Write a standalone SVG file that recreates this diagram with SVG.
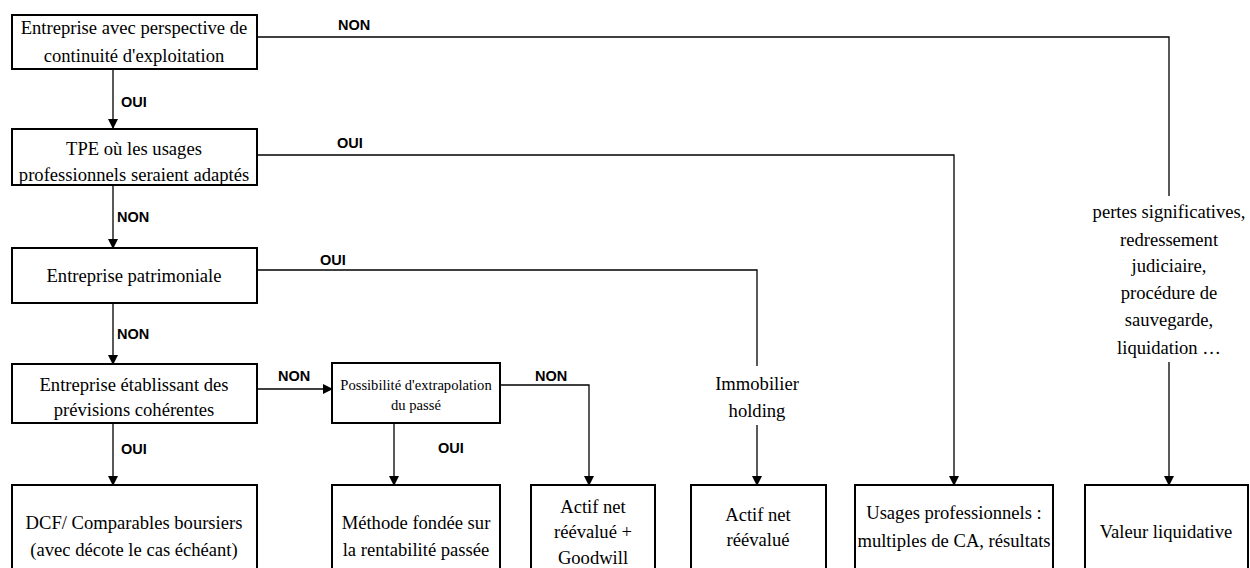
<svg xmlns="http://www.w3.org/2000/svg" width="1250" height="568" viewBox="0 0 1250 568">
<style>
.box{fill:#fff;stroke:#000;stroke-width:2}
.t{font-family:'Liberation Serif','Times New Roman',serif;font-size:18.6px;fill:#000;text-anchor:middle}
.ts{font-family:'Liberation Serif','Times New Roman',serif;font-size:14.6px;fill:#000;text-anchor:middle}
.l{font-family:'Liberation Sans',Arial,sans-serif;font-size:14.5px;font-weight:bold;fill:#000}
.c{fill:none;stroke:#000;stroke-width:1.3}
</style>
<defs>
<marker id="ah" markerWidth="10" markerHeight="10" refX="9" refY="5" orient="auto" markerUnits="userSpaceOnUse">
<path d="M0,0 L10,5 L0,10 Z" fill="#000"/>
</marker>
</defs>
<rect width="1250" height="568" fill="#fff"/>
<g id="connectors">
<path class="c" d="M257,37 H1169 V196"/>
<path class="c" d="M1169,362 V485" marker-end="url(#ah)"/>
<path class="c" d="M257,155 H954 V485" marker-end="url(#ah)"/>
<path class="c" d="M257,270 H757 V366"/>
<path class="c" d="M757,425 V485" marker-end="url(#ah)"/>
<path class="c" d="M113,69 V128" marker-end="url(#ah)"/>
<path class="c" d="M113,185 V248" marker-end="url(#ah)"/>
<path class="c" d="M113,303 V364" marker-end="url(#ah)"/>
<path class="c" d="M113,423 V485" marker-end="url(#ah)"/>
<path class="c" d="M257,389 H332" marker-end="url(#ah)"/>
<path class="c" d="M500,385 H589 V485" marker-end="url(#ah)"/>
<path class="c" d="M394,423 V485" marker-end="url(#ah)"/>
<text class="l" x="338" y="30">NON</text>
<text class="l" x="121" y="107">OUI</text>
<text class="l" x="337" y="148">OUI</text>
<text class="l" x="117" y="222">NON</text>
<text class="l" x="320" y="265">OUI</text>
<text class="l" x="117" y="339">NON</text>
<text class="l" x="278" y="381">NON</text>
<text class="l" x="535" y="381">NON</text>
<text class="l" x="121" y="454">OUI</text>
<text class="l" x="438" y="453">OUI</text>
<text class="t" x="1169" y="218">pertes significatives,</text>
<text class="t" x="1169" y="246">redressement</text>
<text class="t" x="1169" y="272">judiciaire,</text>
<text class="t" x="1169" y="299">procédure de</text>
<text class="t" x="1169" y="326">sauvegarde,</text>
<text class="t" x="1169" y="354">liquidation …</text>
<text class="t" x="757" y="390">Immobilier</text>
<text class="t" x="757" y="417">holding</text>
</g>
<g id="n1"><rect class="box" x="12" y="15" width="245" height="54"/>
<text class="t" x="134" y="34">Entreprise avec perspective de</text>
<text class="t" x="134" y="62">continuité d'exploitation</text></g>
<g id="n2"><rect class="box" x="12" y="129" width="245" height="56"/>
<text class="t" x="134" y="155">TPE où les usages</text>
<text class="t" x="134" y="181">professionnels seraient adaptés</text></g>
<g id="n3"><rect class="box" x="12" y="248" width="245" height="55"/>
<text class="t" x="134" y="282">Entreprise patrimoniale</text></g>
<g id="n4"><rect class="box" x="12" y="364" width="245" height="59"/>
<text class="t" x="134" y="391">Entreprise établissant des</text>
<text class="t" x="134" y="416">prévisions cohérentes</text></g>
<g id="n5"><rect class="box" x="332" y="363" width="168" height="60"/>
<text class="ts" x="416" y="390">Possibilité d'extrapolation</text>
<text class="ts" x="416" y="410">du passé</text></g>
<g id="n6"><rect class="box" x="12" y="485" width="245" height="90"/>
<text class="t" x="134" y="529">DCF/ Comparables boursiers</text>
<text class="t" x="134" y="556">(avec décote le cas échéant)</text></g>
<g id="n7"><rect class="box" x="332" y="485" width="168" height="90"/>
<text class="t" x="416" y="529">Méthode fondée sur</text>
<text class="t" x="416" y="556">la rentabilité passée</text></g>
<g id="n8"><rect class="box" x="531" y="485" width="124" height="90"/>
<text class="t" x="593" y="513">Actif net</text>
<text class="t" x="593" y="538">réévalué +</text>
<text class="t" x="593" y="564">Goodwill</text></g>
<g id="n9"><rect class="box" x="691" y="485" width="135" height="90"/>
<text class="t" x="758" y="521">Actif net</text>
<text class="t" x="758" y="546">réévalué</text></g>
<g id="n10"><rect class="box" x="855" y="485" width="198" height="90"/>
<text class="t" x="954" y="519">Usages professionnels :</text>
<text class="t" x="954" y="547">multiples de CA, résultats</text></g>
<g id="n11"><rect class="box" x="1085" y="485" width="163" height="90"/>
<text class="t" x="1166" y="538">Valeur liquidative</text></g>
</svg>
